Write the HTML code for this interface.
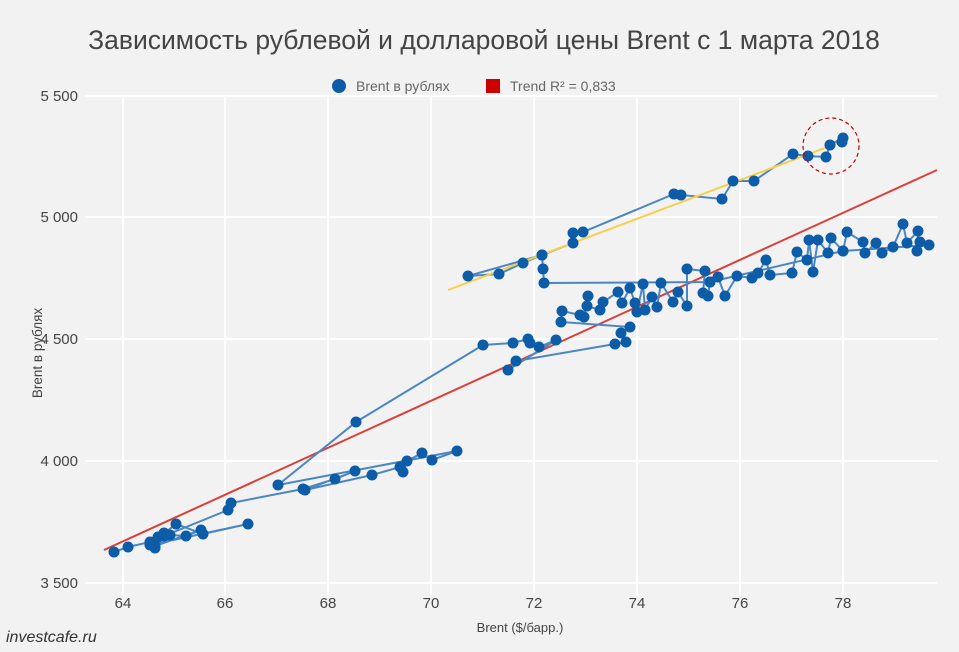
<!DOCTYPE html>
<html><head><meta charset="utf-8"><style>
body{margin:0;background:#f2f2f2;}
svg{display:block;font-family:"Liberation Sans",sans-serif;}
</style></head><body>
<svg id="s" width="959" height="652" xmlns="http://www.w3.org/2000/svg">
<rect width="959" height="652" fill="#f2f2f2"/>
<text x="484" y="49" text-anchor="middle" font-size="26.5" fill="#444">Зависимость рублевой и долларовой цены Brent с 1 марта 2018</text>
<g stroke="#fff" stroke-width="2">
<line x1="85" y1="96" x2="937" y2="96"/><line x1="85" y1="217" x2="937" y2="217"/><line x1="85" y1="339" x2="937" y2="339"/><line x1="85" y1="461" x2="937" y2="461"/><line x1="85" y1="583" x2="937" y2="583"/>
<line x1="123" y1="96" x2="123" y2="595"/><line x1="225" y1="96" x2="225" y2="595"/><line x1="328" y1="96" x2="328" y2="595"/><line x1="431" y1="96" x2="431" y2="595"/><line x1="534" y1="96" x2="534" y2="595"/><line x1="637" y1="96" x2="637" y2="595"/><line x1="740" y1="96" x2="740" y2="595"/><line x1="843" y1="96" x2="843" y2="595"/>
</g>
<g font-size="15" fill="#444" text-anchor="end">
<text x="78" y="101">5 500</text><text x="78" y="222">5 000</text><text x="78" y="344">4 500</text><text x="78" y="466">4 000</text><text x="78" y="588">3 500</text>
</g>
<g font-size="15" fill="#444" text-anchor="middle">
<text x="123" y="608">64</text><text x="225" y="608">66</text><text x="328" y="608">68</text><text x="431" y="608">70</text><text x="534" y="608">72</text><text x="637" y="608">74</text><text x="740" y="608">76</text><text x="843" y="608">78</text>
</g>
<text x="520" y="632" font-size="13" fill="#444" text-anchor="middle">Brent ($/барр.)</text>
<text transform="translate(42,353) rotate(-90)" font-size="13.5" fill="#444" text-anchor="middle">Brent в рублях</text>
<text x="6" y="642" font-size="16" font-style="italic" fill="#333">investcafe.ru</text>
<circle cx="339" cy="86" r="7" fill="#0d5ca8"/><text x="356" y="91" font-size="14" fill="#666">Brent в рублях</text>
<rect x="486" y="79" width="14" height="14" fill="#cc0000"/><text x="510" y="91" font-size="14" fill="#666">Trend R² = 0,833</text>
<line x1="104" y1="550" x2="937" y2="170" stroke="#d9403a" stroke-width="2"/>
<polyline id="pl" fill="none" stroke="#4a86c4" stroke-width="2"/>
<line x1="448" y1="290" x2="838" y2="143" stroke="#f8cf4a" stroke-width="2"/>
<g id="pts" fill="#0d5ca8"></g>
<circle cx="831" cy="146" r="28" fill="none" stroke="#c00" stroke-width="1.2" stroke-dasharray="4,3"/>
</svg>
<script>
var P=[[114,552],[128,547],[150,542],[155,548],[158,537],[164,533],[170,535],[186,536],[201,530],[155,546],[152,543],[176,524],[203,534],[248,524],[150,545],[164,536],[228,510],[231,503],[303,489],[335,479],[355,471],[305,490],[372,475],[400,467],[403,472],[407,461],[422,453],[432,460],[457,451],[278,485],[356,422],[483,345],[513,343],[528,339],[530,343],[539,347],[556,340],[508,370],[516,361],[615,344],[626,342],[621,333],[630,327],[561,322],[562,311],[580,315],[584,317],[588,296],[587,306],[600,310],[603,302],[618,292],[622,303],[630,288],[635,303],[637,312],[643,284],[645,310],[652,297],[657,307],[661,283],[673,302],[678,292],[687,306],[687,269],[705,271],[703,293],[708,296],[710,282],[718,277],[725,296],[737,276],[752,278],[758,273],[766,260],[770,275],[792,273],[797,252],[807,260],[809,240],[813,272],[818,240],[828,253],[831,238],[843,251],[847,232],[863,242],[865,253],[876,243],[882,253],[893,247],[903,224],[907,243],[918,231],[917,251],[920,242],[929,245],[843,251],[710,282],[544,283],[543,269],[542,255],[523,263],[499,274],[468,276],[542,255],[573,243],[573,233],[583,232],[674,194],[681,195],[722,199],[733,181],[754,181],[793,154],[808,156],[826,157],[830,145],[843,138],[842,142]];
document.getElementById('pl').setAttribute('points',P.map(p=>p.join(',')).join(' '));
var g=document.getElementById('pts'),h='';
P.forEach(p=>{h+='<circle cx="'+p[0]+'" cy="'+p[1]+'" r="5.5"/>';});
g.innerHTML=h;
</script>
</body></html>
